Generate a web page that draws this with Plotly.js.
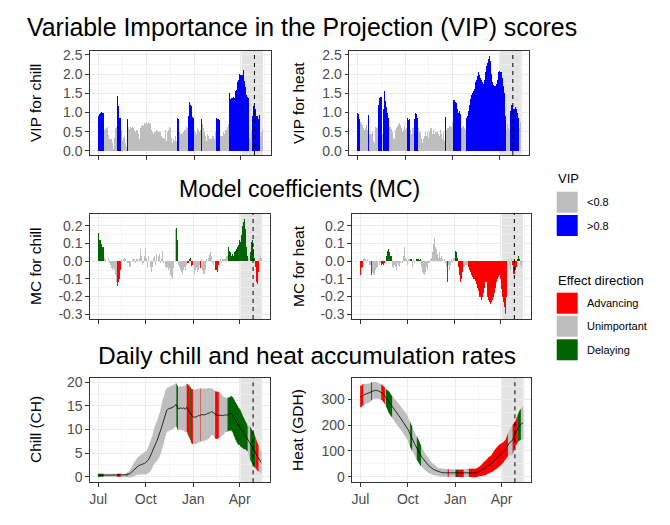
<!DOCTYPE html>
<html><head><meta charset="utf-8">
<script src="https://cdn.plot.ly/plotly-3.0.1.min.js"></script>
<style>html,body{margin:0;padding:0;background:#fff}#chart{width:670px;height:525px}</style>
</head><body><div id="chart"></div>
<script>
// ---------------- data ----------------
const firstDay = [2001, 6, 1]; // 1 July (day index 0)
const vipChill = [1.08,0.91,0.95,1.0,1.0,1.01,1.01,1.0,1.0,1.0,
1.0,0.75,0.55,0.55,0.57,0.55,0.6,0.58,0.62,0.45,
0.42,0.35,0.3,0.35,0.3,0.3,0.25,0.2,0.1,0.05,
0.3,0.35,0.45,0.6,0.6,0.62,0.5,1.42,1.15,1.18,
0.95,0.87,0.85,0.85,0.5,0.55,0.3,0.25,0.2,0.35,
0.38,0.35,0.2,0.15,0.1,0.4,0.82,0.7,0.62,0.6,
0.58,0.6,0.62,0.55,0.6,0.58,0.62,0.55,0.6,0.58,
0.55,0.6,0.5,0.55,0.5,0.55,0.5,0.45,0.35,0.3,
0.5,0.6,0.62,0.65,0.6,0.68,0.7,0.65,0.7,0.72,
0.68,0.7,0.72,0.75,0.72,0.7,0.73,0.75,0.74,0.72,
0.7,0.6,0.55,0.45,0.5,0.48,0.45,0.55,0.5,0.45,
0.5,0.55,0.55,0.5,0.52,0.55,0.5,0.45,0.5,0.55,
0.5,0.45,0.4,0.35,0.3,0.35,0.3,0.32,0.5,0.55,
0.5,0.25,0.3,0.5,0.45,0.55,0.6,0.62,0.65,0.6,
0.55,0.35,0.25,0.2,0.25,0.3,0.25,0.3,0.4,0.55,
0.25,0.6,0.85,0.84,0.82,0.45,0.5,0.48,0.45,0.5,
0.45,0.5,0.48,0.45,0.5,0.45,0.55,0.5,0.55,0.6,
0.62,0.6,0.88,0.9,1.25,1.27,1.22,1.2,1.2,1.18,
0.85,0.88,0.9,0.86,0.4,0.55,0.55,0.5,0.45,0.45,
0.5,0.6,0.55,0.55,0.5,0.55,0.55,0.6,0.82,0.7,
0.7,0.6,0.6,0.55,0.5,0.4,0.4,0.35,0.25,0.3,
0.45,0.45,0.4,0.3,0.3,0.35,0.3,0.35,0.3,0.4,
0.45,0.4,0.35,0.3,0.3,0.5,0.6,0.87,0.85,0.83,
0.83,0.82,0.81,0.81,0.35,0.4,0.45,0.4,0.35,0.4,
0.45,0.5,0.45,0.5,0.55,0.5,0.55,0.6,0.62,0.65,
0.7,1.3,1.5,1.35,1.35,1.38,1.38,1.4,1.38,1.4,
1.4,1.4,1.38,1.45,1.55,1.55,1.6,1.8,1.8,1.85,
2.0,2.0,2.0,1.98,1.98,1.97,1.98,1.98,1.98,2.12,
2.13,1.83,1.82,1.67,1.65,1.45,1.45,1.4,1.4,1.38,
0.5,0.35,0.3,0.5,0.55,0.9,0.92,1.15,1.18,1.22,
1.2,1.1,1.08,1.0,0.9,0.88,0.9,0.85,0.82,0.92,
0.93,0.45,0.4,0.45,0.5,0.55,0.55];

const mcChill = [0.19,0.16,0.13,0.12,0.12,0.12,0.1,0.09,0.08,0.08,
0.08,0.03,0.02,0.0,0.01,0.0,0.0,-0.01,0.0,0.01,
0.02,0.0,-0.01,0.0,-0.02,-0.05,-0.04,-0.03,-0.05,-0.07,
-0.04,-0.06,-0.05,-0.1,-0.08,-0.07,-0.12,-0.14,-0.08,-0.12,
-0.07,-0.1,-0.12,-0.05,0.0,0.01,0.01,0.0,0.02,0.01,
0.01,0.02,0.0,0.01,0.0,0.0,0.01,-0.01,0.0,-0.01,
-0.02,-0.03,-0.02,-0.03,-0.01,0.0,0.01,0.02,0.01,0.02,
0.01,0.0,-0.01,-0.02,0.01,0.02,0.01,-0.01,0.0,0.01,
0.02,0.05,0.07,0.06,0.03,0.0,-0.02,-0.02,-0.01,0.0,
0.03,0.06,0.07,0.05,0.02,-0.02,-0.04,0.03,0.01,0.0,
-0.02,-0.03,-0.05,-0.06,-0.05,-0.03,0.0,0.02,0.05,0.03,
-0.03,-0.02,0.06,0.04,0.02,0.0,-0.01,0.03,0.06,0.04,
0.02,-0.01,0.02,0.01,0.05,0.06,0.02,-0.01,0.0,-0.02,
-0.03,-0.05,-0.04,-0.05,-0.03,-0.02,-0.05,-0.06,-0.04,-0.05,
-0.08,-0.1,-0.09,-0.07,-0.1,-0.06,-0.04,-0.02,0.0,0.1,
0.18,0.15,0.19,0.17,0.12,0.01,-0.02,0.01,-0.03,-0.05,
-0.07,-0.06,-0.05,-0.07,-0.08,-0.05,-0.04,-0.03,-0.06,-0.05,
-0.03,-0.02,-0.01,-0.01,-0.01,-0.01,-0.01,0.01,0.015,0.02,
-0.02,-0.025,-0.02,-0.02,0.01,-0.02,-0.03,-0.07,-0.05,-0.06,
-0.04,-0.08,-0.06,-0.07,-0.05,-0.03,-0.02,-0.03,-0.04,-0.02,
0.01,-0.03,-0.05,-0.06,-0.07,-0.08,-0.07,-0.06,-0.05,-0.02,
0.01,0.02,0.0,-0.01,0.02,0.03,0.04,0.06,0.05,0.03,
0.02,-0.01,0.01,-0.02,-0.01,0.0,-0.01,-0.05,-0.06,-0.05,
-0.04,-0.06,-0.03,-0.02,-0.01,0.0,-0.01,0.01,0.0,-0.01,
0.0,0.01,0.0,0.01,0.02,0.01,0.02,0.01,0.02,0.03,
0.03,0.03,0.08,0.05,0.06,0.04,0.05,0.04,0.03,0.05,
0.04,0.05,0.03,0.04,0.05,0.08,0.06,0.05,0.07,0.06,
0.08,0.1,0.09,0.1,0.12,0.1,0.11,0.13,0.15,0.18,
0.2,0.22,0.24,0.24,0.22,0.18,0.12,0.08,0.05,0.03,
0.01,0.02,0.01,0.0,0.02,0.05,0.08,0.11,0.13,0.12,
0.1,0.07,0.04,0.02,0.01,-0.03,-0.07,-0.12,-0.15,-0.13,
-0.06,0.0,0.02,0.01,0.03,0.05,0.02];

const vipHeat = [1.0,0.98,0.95,0.85,0.82,0.81,0.75,0.73,0.72,0.7,
0.68,0.65,0.6,0.58,0.55,0.6,0.65,0.68,0.62,0.55,
0.5,0.93,0.88,0.45,0.5,0.45,0.4,0.45,0.4,0.5,
0.35,0.25,0.2,0.2,0.4,0.62,0.65,0.6,0.58,0.62,
0.78,1.2,1.35,1.38,1.4,1.42,1.4,1.0,0.45,0.5,
1.1,1.78,1.55,1.45,1.3,1.25,1.15,1.05,1.0,0.95,
0.85,0.82,0.62,0.6,0.62,0.6,0.58,0.55,0.5,0.45,
0.35,0.3,0.4,0.55,0.6,0.6,0.62,0.65,0.68,0.7,
0.72,0.72,0.7,0.68,0.65,0.6,0.55,0.5,0.45,0.55,
0.6,0.65,0.6,0.55,0.5,0.6,0.7,0.85,0.83,0.81,
0.82,0.6,0.55,0.5,0.45,0.55,0.6,0.55,0.6,0.7,
0.82,0.9,0.98,0.98,0.95,0.9,0.85,0.82,0.6,0.55,
0.5,0.55,0.5,0.45,0.3,0.25,0.2,0.3,0.35,0.4,
0.45,0.5,0.45,0.4,0.45,0.5,0.45,0.35,0.4,0.5,
0.55,0.6,0.55,0.6,0.5,0.45,0.5,0.55,0.5,0.45,
0.55,0.5,0.45,0.5,0.55,0.5,0.45,0.35,0.4,0.5,
0.55,0.5,0.45,0.35,0.3,0.45,0.5,0.4,0.25,0.2,
0.88,0.85,0.55,0.6,0.6,0.65,0.6,0.62,0.65,0.6,
0.65,0.6,0.62,0.7,0.75,1.33,1.35,1.32,1.3,1.28,
1.25,1.25,1.22,1.1,1.0,1.0,1.05,1.05,1.0,0.95,
0.9,0.6,0.65,0.62,0.6,0.65,0.62,0.6,0.65,0.55,
0.6,0.85,0.92,0.95,1.05,1.1,1.2,1.3,1.35,1.4,
1.45,1.5,1.5,1.55,1.55,1.6,1.62,1.65,1.8,1.82,
1.85,1.9,1.95,2.0,2.05,2.02,1.98,1.95,1.9,1.88,
1.85,1.8,1.78,1.75,1.8,1.85,1.95,2.05,2.15,2.2,
2.25,2.3,2.32,2.4,2.5,2.48,2.45,2.35,2.2,2.0,
1.9,1.8,1.75,1.72,1.7,1.68,1.65,1.7,1.75,1.8,
1.85,1.95,2.05,2.08,2.08,2.08,2.05,2.08,2.05,2.0,
1.9,1.8,1.7,1.6,1.5,1.3,0.9,0.6,0.55,0.65,
0.7,0.75,0.6,0.45,0.55,0.65,1.05,1.2,1.22,1.2,
1.15,1.1,0.95,1.1,1.12,1.15,1.15,1.1,1.05,1.0,
0.95,0.85,0.55,0.6,0.65,0.75,0.7];

const mcHeat = [-0.12,-0.08,-0.06,-0.04,-0.03,-0.03,0.0,0.01,0.02,0.02,
0.01,0.0,-0.01,0.02,0.01,-0.01,0.0,-0.01,-0.02,-0.01,
-0.02,-0.1,-0.08,-0.04,-0.06,-0.08,-0.07,-0.05,-0.08,-0.06,
-0.05,-0.03,-0.04,-0.02,-0.03,-0.01,0.0,-0.01,-0.02,-0.01,
-0.01,-0.02,-0.02,-0.02,-0.015,-0.02,-0.02,-0.01,0.01,0.0,
0.03,0.03,0.04,0.06,0.08,0.07,0.06,0.05,0.04,0.03,
0.02,0.03,-0.02,-0.03,-0.02,-0.04,-0.05,-0.02,0.01,-0.03,
-0.04,-0.05,-0.02,-0.01,-0.03,-0.02,-0.01,-0.03,-0.02,-0.01,
0.0,0.02,-0.01,0.01,0.03,0.06,0.08,0.05,0.02,0.03,
0.01,-0.01,-0.02,0.0,0.01,0.0,0.01,0.02,0.015,0.01,
0.01,-0.02,-0.03,-0.01,0.01,0.02,-0.01,-0.02,0.0,0.01,
0.01,0.015,0.01,0.01,0.01,0.005,0.01,0.01,-0.02,-0.03,
-0.04,-0.06,-0.08,-0.07,-0.05,-0.08,-0.07,-0.06,-0.04,-0.03,
-0.02,-0.05,-0.03,-0.01,0.02,-0.01,-0.02,0.01,0.0,0.02,
0.03,0.05,0.08,0.1,0.12,0.13,0.11,0.08,0.05,0.07,
0.05,0.04,0.02,0.03,0.05,0.04,0.02,0.01,0.03,0.0,
0.01,-0.01,0.0,0.02,0.01,-0.02,-0.01,-0.02,-0.03,-0.01,
-0.12,-0.1,-0.02,-0.04,-0.05,-0.03,-0.02,-0.01,0.01,0.0,
-0.01,0.01,0.02,0.01,0.02,0.03,0.06,0.05,0.03,0.02,
-0.02,-0.03,-0.05,-0.08,-0.09,-0.12,-0.11,-0.1,-0.08,-0.06,
-0.04,-0.03,-0.02,-0.03,-0.01,-0.02,-0.03,-0.02,-0.01,-0.02,
-0.02,-0.03,-0.04,-0.05,-0.05,-0.06,-0.07,-0.08,-0.08,-0.09,
-0.09,-0.1,-0.1,-0.11,-0.11,-0.12,-0.13,-0.14,-0.15,-0.16,
-0.17,-0.19,-0.2,-0.22,-0.2,-0.21,-0.22,-0.2,-0.2,-0.19,
-0.18,-0.17,-0.15,-0.13,-0.12,-0.1,-0.12,-0.18,-0.2,-0.21,
-0.22,-0.22,-0.23,-0.23,-0.24,-0.24,-0.23,-0.22,-0.2,-0.2,
-0.2,-0.18,-0.16,-0.15,-0.13,-0.12,-0.1,-0.1,-0.1,-0.09,
-0.09,-0.08,-0.08,-0.1,-0.12,-0.16,-0.18,-0.2,-0.21,-0.23,
-0.25,-0.26,-0.28,-0.3,-0.26,-0.2,-0.1,-0.01,0.0,0.01,
0.02,-0.02,-0.05,-0.01,0.02,0.0,-0.02,-0.05,-0.07,-0.06,
-0.07,-0.06,-0.05,-0.04,-0.03,-0.02,0.01,0.04,0.03,0.02,
0.01,0.01,-0.02,-0.05,-0.03,-0.02,-0.01];

const chillMean = [0.3,0.3,0.3,0.3,0.3,0.3,0.3,0.3,0.3,0.3,
0.3,0.3,0.3,0.3,0.3,0.3,0.3,0.3,0.3,0.3,
0.3,0.3,0.3,0.3,0.3,0.3,0.3,0.3,0.3,0.3,
0.3,0.3,0.3,0.3,0.3,0.3,0.3,0.3,0.3,0.3,
0.3,0.3,0.3,0.3,0.3,0.3,0.3,0.3,0.3,0.3,
0.3,0.3,0.3,0.3,0.3,0.4,0.4,0.5,0.5,0.5,
0.6,0.6,0.7,0.8,0.9,1.0,1.1,1.2,1.4,1.5,
1.6,1.7,1.8,1.9,2.0,2.1,2.2,2.3,2.3,2.4,
2.4,2.5,2.5,2.6,2.6,2.6,2.7,2.7,2.7,2.8,
2.8,2.9,2.9,3.0,3.0,3.2,3.4,3.5,3.7,3.9,
4.1,4.3,4.6,4.8,5.0,5.3,5.7,6.0,6.3,6.6,
6.8,7.0,7.2,7.4,7.6,7.9,8.1,8.4,8.6,8.9,
9.2,9.6,10.0,10.5,10.9,11.3,11.7,12.0,12.4,12.9,
13.3,13.6,13.9,14.1,14.2,14.3,14.2,14.4,14.5,14.4,
14.5,14.6,14.5,14.6,14.7,14.8,14.8,14.9,15.0,15.0,
15.2,15.3,15.1,14.8,14.6,14.4,14.4,14.5,14.6,14.6,
14.6,14.5,14.4,14.4,14.5,14.5,14.6,14.4,14.3,14.3,
14.5,14.7,14.6,14.4,14.2,14.0,13.8,13.7,13.5,13.3,
13.0,12.8,12.7,12.7,12.6,12.7,12.7,12.6,12.7,12.8,
12.7,12.7,12.8,12.8,12.9,13.0,12.9,13.0,13.1,13.0,
13.1,13.2,13.1,13.0,13.1,13.1,13.2,13.3,13.2,13.2,
13.2,13.3,13.4,13.4,13.4,13.5,13.5,13.6,13.6,13.7,
13.8,13.8,13.7,13.5,13.4,13.3,13.2,13.1,13.1,13.0,
13.0,13.0,13.0,13.1,13.0,13.1,13.1,13.0,13.0,13.0,
13.0,13.0,12.9,13.0,13.0,13.0,13.1,13.1,13.0,13.0,
13.1,13.1,13.2,13.2,13.3,13.3,13.4,13.5,13.4,13.3,
13.2,13.0,12.8,12.5,12.3,12.0,11.8,11.6,11.4,11.2,
11.0,10.8,10.7,10.6,10.5,10.3,10.2,10.0,9.8,9.7,
9.5,9.3,9.2,9.1,8.9,8.8,8.6,8.5,8.3,8.1,
8.0,7.8,7.6,7.4,7.2,7.0,6.8,6.6,6.4,6.2,
6.0,5.8,5.6,5.4,5.2,5.0,4.8,4.5,4.3,4.1,
3.9,3.8,3.6,3.4,3.3,3.1,3.0];

const chillSd = [0.3,0.3,0.3,0.3,0.3,0.3,0.3,0.3,0.3,0.3,
0.3,0.3,0.3,0.3,0.3,0.3,0.3,0.3,0.3,0.3,
0.3,0.3,0.3,0.3,0.3,0.3,0.3,0.3,0.3,0.3,
0.3,0.3,0.3,0.3,0.3,0.3,0.3,0.3,0.3,0.3,
0.3,0.3,0.3,0.3,0.3,0.3,0.3,0.3,0.3,0.3,
0.3,0.3,0.3,0.3,0.3,0.4,0.4,0.5,0.5,0.6,
0.6,0.7,0.8,0.9,1.0,1.1,1.2,1.3,1.3,1.4,
1.5,1.5,1.6,1.6,1.7,1.7,1.8,1.8,1.9,1.9,
2.0,2.0,2.0,2.1,2.1,2.2,2.2,2.3,2.3,2.4,
2.4,2.4,2.5,2.5,2.6,2.7,2.7,2.8,2.9,3.0,
3.1,3.1,3.2,3.3,3.4,3.4,3.5,3.6,3.7,3.8,
3.9,4.0,4.1,4.2,4.2,4.3,4.4,4.5,4.6,4.6,
4.7,4.8,4.8,4.9,4.9,5.0,5.0,5.0,4.9,4.9,
4.8,4.8,4.7,4.7,4.7,4.6,4.7,4.6,4.6,4.6,
4.6,4.7,4.6,4.7,4.6,4.6,4.6,4.7,4.6,4.6,
4.6,4.6,4.6,4.6,4.6,4.6,4.6,4.5,4.6,4.6,
4.6,4.7,4.7,4.6,4.7,4.7,4.6,4.8,4.9,5.0,
5.0,5.1,5.1,5.2,5.3,5.4,5.4,5.5,5.6,5.6,
5.7,5.7,5.8,5.8,5.8,5.8,5.8,5.8,5.7,5.8,
5.8,5.8,5.7,5.7,5.8,5.7,5.7,5.7,5.6,5.6,
5.6,5.6,5.6,5.5,5.6,5.6,5.5,5.5,5.5,5.4,
5.5,5.4,5.4,5.4,5.4,5.3,5.3,5.2,5.1,5.0,
4.9,4.9,4.9,4.9,4.9,5.0,5.0,5.0,5.0,5.0,
5.0,5.0,4.9,4.9,4.8,4.8,4.7,4.7,4.5,4.4,
4.3,4.2,4.1,4.0,3.9,3.8,3.7,3.7,3.6,3.6,
3.6,3.6,3.5,3.5,3.5,3.5,3.5,3.6,3.6,3.7,
3.7,3.8,3.8,3.9,3.9,3.9,4.0,4.0,4.0,4.0,
4.0,4.0,3.9,3.9,3.8,3.8,3.8,3.7,3.6,3.5,
3.4,3.4,3.3,3.2,3.1,3.0,2.9,2.9,2.8,2.7,
2.8,3.0,3.2,3.4,3.5,3.5,3.5,3.5,3.5,3.5,
3.5,3.5,3.5,3.4,3.3,3.2,3.1,3.0,3.0,2.9,
2.8,2.7,2.6,2.5,2.4,2.3,2.3];

const heatMean = [310,311,312,314,316,318,319,320,320,320,
321,321,322,322,323,323,324,324,325,326,
328,330,331,332,333,334,334,335,335,334,
335,334,334,333,334,333,332,331,330,329,
328,327,326,324,322,320,317,314,311,308,
305,302,299,296,293,290,287,284,281,278,
275,272,269,267,264,262,259,257,254,251,
249,246,244,241,238,236,233,230,228,225,
222,220,217,214,211,209,206,203,200,197,
194,190,186,181,176,171,167,162,158,153,
149,145,140,136,132,128,124,120,116,113,
110,106,102,98,94,90,86,83,80,77,
74,71,68,65,62,60,57,55,52,50,
48,46,44,42,40,38,36,35,33,31,
30,29,28,27,26,25,24,23,22,21,
20,20,19,19,18,18,17,17,16,16,
16,15,15,15,15,15,15,14,14,14,
14,14,14,14,14,14,14,13,13,13,
13,13,13,13,13,13,13,13,13,13,
13,13,13,13,13,13,13,13,13,13,
13,13,13,14,14,14,14,15,15,15,
15,15,15,15,15,14,14,14,13,13,
13,13,13,13,14,15,16,17,18,19,
20,21,22,23,24,25,26,27,29,30,
31,32,33,34,36,38,39,41,43,44,
45,46,47,48,50,52,54,56,58,61,
63,65,67,69,71,73,75,77,79,81,
82,84,85,87,88,90,92,94,96,99,
101,103,106,110,114,118,122,126,129,131,
133,134,135,136,138,140,145,150,155,160,
165,168,172,176,180,184,188,192,195,198,
200,202,204,206,207,208,209];

const heatSd = [42,42,42,41,41,41,40,40,40,39,
39,39,38,38,38,38,37,37,37,37,
36,35,35,34,34,33,33,33,32,32,
32,32,31,31,31,31,30,30,30,30,
30,30,30,30,31,31,31,32,32,33,
34,35,37,38,40,41,42,42,42,42,
42,42,43,43,43,43,44,44,44,45,
45,45,45,45,45,45,45,45,45,45,
45,45,45,46,46,46,47,47,47,48,
48,48,48,48,48,48,48,48,48,47,
47,46,46,45,45,45,45,45,45,45,
45,45,44,44,43,43,42,41,40,39,
38,37,36,35,34,33,33,32,31,31,
30,30,29,28,27,26,25,24,23,22,
22,21,21,20,20,19,19,18,18,17,
17,16,16,16,16,16,16,16,16,16,
16,16,16,16,16,15,15,15,15,15,
15,15,15,15,15,15,15,15,14,14,
14,14,14,14,14,14,14,14,14,14,
14,14,14,14,14,14,14,14,14,14,
14,14,14,14,15,15,15,16,16,16,
16,16,16,16,16,16,16,16,16,16,
16,16,16,16,17,17,17,17,18,18,
18,18,19,19,20,21,22,23,24,25,
26,27,28,28,29,29,30,30,31,31,
32,32,32,33,33,34,35,36,37,38,
38,39,39,40,40,41,41,42,42,42,
42,42,42,42,41,41,40,40,39,39,
38,38,38,39,40,42,44,46,47,48,
50,52,54,56,58,58,56,54,52,50,
48,48,49,50,51,52,53,55,57,58,
59,60,61,62,63,63,64];

// bloom window (day index from 1 July) and mean bloom day
const bloomFirst = 275.5, bloomLast = 316.5, bloomMeanDay = 300;

const monthTickDates = ['2001-07-01','2001-10-01','2002-01-01','2002-04-01'];
const monthTickText = ['Jul','Oct','Jan','Apr'];
const monthMinorDates = ['2001-08-16','2001-11-16','2002-02-15','2002-05-16'];
const vipTicks = [0,0.5,1,1.5,2,2.5], vipTickText = ['0.0','0.5','1.0','1.5','2.0','2.5'];
const vipMinor = [0.25,0.75,1.25,1.75,2.25];
const mcTicks = [-0.3,-0.2,-0.1,0,0.1,0.2], mcTickText = ['-0.3','-0.2','-0.1','0.0','0.1','0.2'];
const mcMinor = [-0.25,-0.15,-0.05,0.05,0.15,0.25];
const chillTicks = [0,5,10,15,20], chillMinor = [2.5,7.5,12.5,17.5];
const heatTicks = [0,100,200,300], heatMinor = [50,150,250,350];

// ---------------- build ----------------
const DAY = 86400000;
const T0 = Date.UTC(firstDay[0], firstDay[1], firstDay[2]);
const toDate = d => new Date(T0 + d * DAY).toISOString().slice(0, 19).replace('T', ' ');
const N = vipChill.length;
const dates = vipChill.map((_, i) => toDate(i));
const span = N - 1;
const xRange = [toDate(-0.05 * span), toDate(span * 1.05)];

const GREY = '#BEBEBE', BLUE = '#0000FF', RED = '#FF0000', GREEN = '#006400';
const vipCol = v => v > 0.8 ? BLUE : GREY;
const effCol = (v, m) => v > 0.8 ? (m < 0 ? RED : GREEN) : GREY;

const FONT = 'Liberation Sans, Arial, sans-serif';

function barTrace(y, colors, xa, ya) {
  return {type: 'bar', x: dates, y: y, xaxis: xa, yaxis: ya, width: DAY,
    marker: {color: colors, line: {width: 0}}, hoverinfo: 'skip', showlegend: false};
}
function lineTrace(y, xa, ya) {
  return {type: 'scatter', mode: 'lines', x: dates, y: y, xaxis: xa, yaxis: ya,
    line: {color: '#000000', width: 0.8}, hoverinfo: 'skip', showlegend: false};
}
// stepped ribbon polygon (one step per day) for days i0..i1
function ribbon(mean, sd, i0, i1, color, xa, ya) {
  const xs = [], ys = [];
  for (let i = i0; i <= i1; i++) {
    xs.push(toDate(i - 0.5), toDate(i + 0.5)); ys.push(mean[i] + sd[i], mean[i] + sd[i]);
  }
  for (let i = i1; i >= i0; i--) {
    xs.push(toDate(i + 0.5), toDate(i - 0.5)); ys.push(mean[i] - sd[i], mean[i] - sd[i]);
  }
  return {type: 'scatter', mode: 'lines', x: xs, y: ys, fill: 'toself', fillcolor: color,
    line: {width: 0, color: color}, xaxis: xa, yaxis: ya, hoverinfo: 'skip', showlegend: false};
}
function ribbonTraces(mean, sd, vip, mc, xa, ya) {
  const cols = mc.map((m, i) => effCol(vip[i], m));
  const out = [ribbon(mean, sd, 0, mean.length - 1, GREY, xa, ya)];
  let i = 0;
  while (i < cols.length) {
    let j = i;
    while (j + 1 < cols.length && cols[j + 1] === cols[i]) j++;
    if (cols[i] !== GREY) out.push(ribbon(mean, sd, i, j, cols[i], xa, ya));
    i = j + 1;
  }
  return out;
}

const traces = [
  barTrace(vipChill, vipChill.map(vipCol), 'x', 'y'),
  barTrace(vipHeat, vipHeat.map(vipCol), 'x2', 'y2'),
  barTrace(mcChill, mcChill.map((m, i) => effCol(vipChill[i], m)), 'x3', 'y3'),
  barTrace(mcHeat, mcHeat.map((m, i) => effCol(vipHeat[i], m)), 'x4', 'y4'),
  ...ribbonTraces(chillMean, chillSd, vipChill, mcChill, 'x5', 'y5'),
  lineTrace(chillMean, 'x5', 'y5'),
  ...ribbonTraces(heatMean, heatSd, vipHeat, mcHeat, 'x6', 'y6'),
  lineTrace(heatMean, 'x6', 'y6')
];

const W = 670, H = 525;
const px = x => x / W, py = y => 1 - y / H;

const common = {
  showline: true, mirror: true, linecolor: '#333333', linewidth: 1,
  ticks: 'outside', ticklen: 3.7, tickwidth: 1, tickcolor: '#333333',
  showgrid: true, gridcolor: '#EBEBEB', gridwidth: 1, zeroline: false, fixedrange: true,
  tickfont: {family: FONT, size: 14, color: '#4D4D4D'}
};
function xAxis(x0, x1, anchor, labels) {
  return Object.assign({}, common, {
    domain: [px(x0), px(x1)], anchor: anchor, type: 'date', range: xRange,
    tickmode: 'array', tickvals: monthTickDates, ticktext: monthTickText, showticklabels: labels,
    minor: {tickmode: 'array', tickvals: monthMinorDates, showgrid: true, gridcolor: '#F1F1F1', gridwidth: 0.7, ticks: ''}
  });
}
function yAxis(y0, y1, anchor, range, ticks, text, minor) {
  return Object.assign({}, common, {
    domain: [py(y1), py(y0)], anchor: anchor, range: range,
    tickmode: 'array', tickvals: ticks, ticktext: text || ticks.map(String),
    minor: {tickmode: 'array', tickvals: minor, showgrid: true, gridcolor: '#F1F1F1', gridwidth: 0.7, ticks: ''}
  });
}

const L0 = 90;
const rows = [[50.7, 155], [213.5, 319], [378, 482.3]];

const layout = {
  width: W, height: H, margin: {l: 0, r: 0, t: 0, b: 0},
  paper_bgcolor: '#FFFFFF', plot_bgcolor: '#FFFFFF',
  bargap: 0, barmode: 'overlay', showlegend: false,
  font: {family: FONT},
  xaxis: xAxis(L0, 271, 'y', false),
  xaxis2: xAxis(349.3, 529.3, 'y2', false),
  xaxis3: xAxis(L0, 269.5, 'y3', false),
  xaxis4: xAxis(352, 530.7, 'y4', false),
  xaxis5: xAxis(L0, 269.5, 'y5', true),
  xaxis6: xAxis(352.3, 531.3, 'y6', true),
  yaxis: yAxis(rows[0][0], rows[0][1], 'x', [-0.105, 2.61], vipTicks, vipTickText, vipMinor),
  yaxis2: yAxis(rows[0][0], rows[0][1], 'x2', [-0.105, 2.61], vipTicks, vipTickText, vipMinor),
  yaxis3: yAxis(rows[1][0], rows[1][1], 'x3', [-0.327, 0.27], mcTicks, mcTickText, mcMinor),
  yaxis4: yAxis(rows[1][0], rows[1][1], 'x4', [-0.327, 0.27], mcTicks, mcTickText, mcMinor),
  yaxis5: yAxis(rows[2][0], rows[2][1], 'x5', [-1.19, 20.9], chillTicks, null, chillMinor),
  yaxis6: yAxis(rows[2][0], rows[2][1], 'x6', [-21.7, 382.6], heatTicks, null, heatMinor),
  shapes: [], annotations: []
};

// bloom window shading and mean bloom line on every panel
['', '2', '3', '4', '5', '6'].forEach(k => {
  layout.shapes.push({type: 'rect', xref: 'x' + k, yref: 'y' + k + ' domain',
    x0: toDate(bloomFirst), x1: toDate(bloomLast), y0: 0, y1: 1,
    fillcolor: '#E3E3E3', line: {width: 0}, layer: 'below'});
  layout.shapes.push({type: 'line', xref: 'x' + k, yref: 'y' + k + ' domain',
    x0: toDate(bloomMeanDay), x1: toDate(bloomMeanDay), y0: 0, y1: 1,
    line: {color: '#000000', width: 1, dash: '4px,4px'}, layer: 'above'});
});

// titles
[['Variable Importance in the Projection (VIP) scores', 302, 27, 24.9],
 ['Model coefficients (MC)', 299, 189, 23],
 ['Daily chill and heat accumulation rates', 307, 355, 24.5]].forEach(([t, x, y, s]) => {
  layout.annotations.push({text: t, x: px(x), y: py(y), xref: 'paper', yref: 'paper',
    xanchor: 'center', yanchor: 'middle', showarrow: false,
    font: {family: FONT, size: s, color: '#000000'}});
});

// axis titles
const axFont = {family: FONT, size: 15.5, color: '#000000'};
[['VIP for chill', 35, 103], ['VIP for heat', 298, 103],
 ['MC for chill', 35, 266], ['MC for heat', 298, 266],
 ['Chill (CH)', 35, 430], ['Heat (GDH)', 297, 430]].forEach(([t, x, y]) => {
  layout.annotations.push({text: t, x: px(x), y: py(y), xref: 'paper', yref: 'paper',
    xanchor: 'center', yanchor: 'middle', textangle: -90, showarrow: false, font: axFont});
});

// legends
const legTitleFont = {family: FONT, size: 13, color: '#000000'};
const legFont = {family: FONT, size: 11, color: '#000000'};
function legTitle(t, y) {
  layout.annotations.push({text: t, x: px(556), y: py(y), xref: 'paper', yref: 'paper',
    xanchor: 'left', yanchor: 'middle', showarrow: false, font: legTitleFont});
}
function legItem(color, label, top) {
  layout.shapes.push({type: 'rect', xref: 'paper', yref: 'paper',
    x0: px(556.7), x1: px(577.7), y0: py(top + 21), y1: py(top),
    fillcolor: color, line: {width: 0}});
  layout.annotations.push({text: label, x: px(585), y: py(top + 10.5), xref: 'paper', yref: 'paper',
    xanchor: 'left', yanchor: 'middle', showarrow: false, font: legFont});
}
legTitle('VIP', 179);
legItem(GREY, '&lt;0.8', 191.7);
legItem(BLUE, '&gt;0.8', 215);
legTitle('Effect direction', 280);
legItem(RED, 'Advancing', 292.7);
legItem(GREY, 'Unimportant', 315.7);
legItem(GREEN, 'Delaying', 339.3);

Plotly.newPlot('chart', traces, layout, {staticPlot: true, displayModeBar: false});
</script></body></html>
